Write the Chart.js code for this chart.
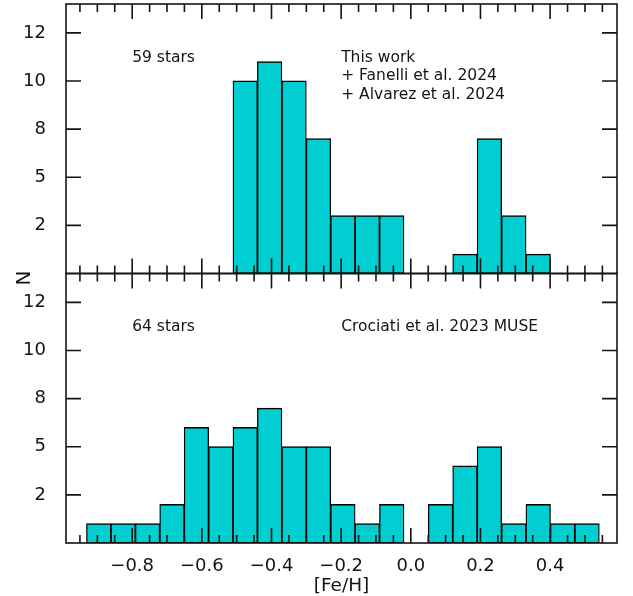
<!DOCTYPE html>
<html>
<head>
<meta charset="utf-8">
<script src="https://cdn.jsdelivr.net/npm/chart.js@4/dist/chart.umd.min.js"></script>
<style>
  html, body { margin: 0; padding: 0; background: #fff; }
</style>
</head>
<body>
<canvas id="chart" width="633" height="596"></canvas>
<script>
// [Fe/H] bin centres, shared by both panels
const binCenters = [-0.8960, -0.8259, -0.7558, -0.6857, -0.6156, -0.5455, -0.4754,
  -0.4053, -0.3352, -0.2651, -0.1950, -0.1249, -0.0548, 0.0153, 0.0854, 0.1555,
  0.2256, 0.2957, 0.3658, 0.4359, 0.5060];

// counts per bin (null = empty bin)
const topCounts = [null, null, null, null, null, null, 10, 11, 10, 7, 3, 3, 3,
  null, null, 1, 7, 3, 1, null, null];
const bottomCounts = [1, 1, 1, 2, 6, 5, 6, 7, 5, 5, 2, 1, 2,
  null, 2, 4, 5, 1, 2, 1, 1];

const xTickValues = [-0.8, -0.6, -0.4, -0.2, 0.0, 0.2, 0.4];
const yTickValues = [2.5, 5, 7.5, 10, 12.5];
const yTickLabels = ["2", "5", "8", "10", "12"];

const topNotes = [{ x: -0.8, y: 11.2, lines: ["59 stars"] },
  { x: -0.2, y: 11.2, lines: ["This work", "+ Fanelli et al. 2024", "+ Alvarez et al. 2024"] }];
const bottomNotes = [{ x: -0.8, y: 11.2, lines: ["64 stars"] },
  { x: -0.2, y: 11.2, lines: ["Crociati et al. 2023 MUSE"] }];

const FONT = "'DejaVu Sans', sans-serif";
const INK = "#141414";

function fmtX(v) {
  return v.toFixed(1).replace("-", "\u2212");
}

const yAxis = () => ({
  type: "linear",
  position: "left",
  stack: "panels",
  stackWeight: 1,
  min: 0,
  max: 14,
  offset: false,
  grid: { display: false },
  border: { display: false },
  afterBuildTicks: s => { s.ticks = yTickValues.map(v => ({ value: v })); },
  afterFit: s => { s.width = 46; s.paddingTop = 0; s.paddingBottom = 0; },
  ticks: {
    padding: 12,
    color: INK,
    font: { family: FONT, size: 18 },
    callback: (v) => yTickLabels[yTickValues.indexOf(v)]
  }
});

const framePlugin = {
  id: "frame",
  afterDatasetsDraw(chart) {
    const c = chart.ctx;
    const x = chart.scales.x;
    const area = chart.chartArea;
    c.save();
    c.strokeStyle = INK;
    c.lineWidth = 1.6;
    [chart.scales.yTop, chart.scales.yBot].forEach(ys => {
      const top = ys.top, bot = ys.bottom;
      c.strokeRect(area.left, top, area.right - area.left, bot - top);
      c.beginPath();
      // x ticks, major and minor, inward on top and bottom edges
      for (let k = -19; k <= 11; k++) {
        const v = k * 0.05;
        const px = x.getPixelForValue(v);
        if (px <= area.left + 1 || px >= area.right - 1) continue;
        const len = (k % 4 === 0) ? 15 : 8;
        c.moveTo(px, top); c.lineTo(px, top + len);
        c.moveTo(px, bot); c.lineTo(px, bot - len);
      }
      // y ticks, inward on left and right edges
      yTickValues.forEach(v => {
        const py = ys.getPixelForValue(v);
        c.moveTo(area.left, py); c.lineTo(area.left + 15, py);
        c.moveTo(area.right, py); c.lineTo(area.right - 15, py);
      });
      c.stroke();
    });

    // panel notes
    c.fillStyle = INK;
    c.font = "15.5px " + FONT;
    c.textAlign = "left";
    c.textBaseline = "middle";
    [[chart.scales.yTop, topNotes], [chart.scales.yBot, bottomNotes]].forEach(([ys, notes]) => {
      notes.forEach(n => {
        const px = x.getPixelForValue(n.x);
        const py = ys.getPixelForValue(n.y);
        n.lines.forEach((t, i) => c.fillText(t, px, py + i * 18.5));
      });
    });

    // shared y label
    c.font = "20px " + FONT;
    c.textAlign = "center";
    c.translate(25, 278);
    c.rotate(-Math.PI / 2);
    c.fillText("N", 0, 0);
    c.restore();
  }
};

const barStyle = {
  backgroundColor: "#00CED1",
  borderColor: "#000",
  borderWidth: 1.3,
  borderSkipped: false,
  inflateAmount: 0.4,
  grouped: false,
  barPercentage: 1,
  categoryPercentage: 1
};

const ctx = document.getElementById("chart").getContext("2d");

new Chart(ctx, {
  type: "bar",
  data: {
    datasets: [
      { label: "bottom", data: binCenters.map((v, i) => ({ x: v, y: bottomCounts[i] })), yAxisID: "yBot", ...barStyle },
      { label: "top", data: binCenters.map((v, i) => ({ x: v, y: topCounts[i] })), yAxisID: "yTop", ...barStyle }
    ]
  },
  options: {
    responsive: false,
    animation: false,
    events: [],
    layout: { padding: { left: 20, right: 16, top: 4, bottom: 0 } },
    plugins: { legend: { display: false }, tooltip: { enabled: false } },
    scales: {
      x: {
        type: "linear",
        position: "bottom",
        min: -0.99,
        max: 0.592,
        offset: false,
        grid: { display: false },
        border: { display: false },
        afterBuildTicks: s => { s.ticks = xTickValues.map(v => ({ value: v })); },
        afterFit: s => { s.height = 53; s.paddingLeft = 0; s.paddingRight = 0; },
        ticks: {
          padding: 5,
          maxRotation: 0,
          autoSkip: false,
          color: INK,
          font: { family: FONT, size: 18 },
          callback: v => fmtX(v)
        },
        title: {
          display: true,
          text: "[Fe/H]",
          color: INK,
          font: { family: FONT, size: 18.5 },
          padding: { top: 0, bottom: -1 }
        }
      },
      yBot: yAxis(),
      yTop: yAxis()
    }
  },
  plugins: [framePlugin]
});
</script>
</body>
</html>
